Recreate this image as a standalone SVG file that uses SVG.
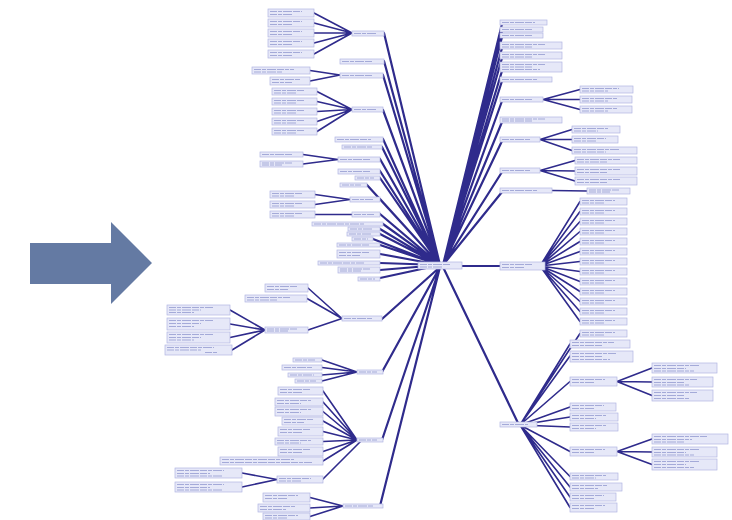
<svg xmlns="http://www.w3.org/2000/svg" width="732" height="520" viewBox="0 0 732 520">
<style>
.n rect{fill:#e6e8f8;stroke:#b1b6e2;stroke-width:0.7}
.n path{fill:none;stroke:#a4aad8;stroke-width:1;stroke-dasharray:7 1 4 1 9 1}
.e path{fill:none;stroke:#2f2b8c;stroke-linecap:round}
.c{stroke-width:2.2}
.f{stroke-width:1.6}
</style>
<rect width="732" height="520" fill="#ffffff"/>
<polygon id="bigArrow" points="30,243 111,243 111,222 152,263 111,304 111,284 30,284" fill="#647aa3"/>
<g id="connectors" class="e">
<path class="c" d="M440 265L384 33M440 265L384 61M440 265L383 75M440 265L383 110M440 265L383 139M440 265L382 147M440 265L380 159M440 265L380 171M440 265L380 178M440 265L367 185M440 265L380 199M440 265L380 214M440 265L383 224M440 265L380 229M440 265L380 234M440 265L373 239M440 265L380 245M440 265L380 254M440 265L380 263M440 265L380 270M440 265L380 278"/>
<path class="c" d="M443 265L502 24M443 265L502 31M443 265L502 37M443 265L502 48M443 265L502 58M443 265L502 71M443 265L502 81M443 265L502 101M443 265L502 122M443 265L502 141M443 265L502 172M443 265L502 192M462 266L500 266"/>
<path class="c" d="M440 267L382 319M440 267L382 372M440 267L382 440M440 267L380 506M443 267L518 423"/>
<path class="f" d="M352 33L314 13M352 33L314 23M352 33L314 33M352 33L314 43M352 33L314 54M340 75L310 70.5M340 75L310 81M352 109.5L317 91.5M352 109.5L317 101.5M352 109.5L317 111.5M352 109.5L317 121.5M352 109.5L317 131.5M338 159.5L303 154.5M338 159.5L303 164M350 199.5L315 194.5M350 199.5L315 204.5M352 214.5L315 214.5"/>
<path class="f" d="M342 318.5L308 288M342 318.5L307 298.5M342 318.5L308 330M265 330L230 310M265 330L230 324M265 330L230 337.5M265 330L232 350M357 372L322 360M357 372L322 367.5M357 372L322 375M357 372L322 381M357 440L323 391M357 440L323 402M357 440L323 411.5M357 440L323 421M357 440L323 431.5M357 440L323 441.5M357 440L323 451.5M357 440L323 461M277 479.5L242 473M277 479.5L242 487M323 479L360 442M343 506L310 497.5M343 506L310 508M343 506L310 516.5"/>
<path class="f" d="M543 99.5L580 89.5M543 99.5L580 99.5M543 99.5L580 109.5M540 139.5L572 129.5M540 139.5L572 139.5M540 139.5L572 150.5M540 170.5L575 160.5M540 170.5L575 171M540 170.5L575 181M552 190.5L587 191"/>
<path class="f" d="M540 266L580 201.5M540 266L580 211.5M540 266L580 221.5M540 266L580 231.5M540 266L580 241.5M540 266L580 251.5M540 266L580 261.5M540 266L580 271.5M540 266L580 281.5M540 266L580 291.5M540 266L580 301.5M540 266L580 311.5M540 266L580 321.5"/>
<path class="f" d="M520 425L580 333.5M520 425L570 344M520 425L570 356M520 425L570 381.5M520 425L570 407M520 425L570 417M520 425L570 427M520 425L570 451.5M520 425L570 476.5M520 425L570 487M520 425L570 497M520 425L570 507.5M617 381.5L652 368M617 381.5L652 382M617 381.5L652 395.5M617 451.5L652 439M617 451.5L652 452M617 451.5L652 464.5"/>
</g>
<g class="n">
<g id="center"><rect x="418" y="262" width="44" height="7"/><path d="M420 264.5h30M420 267h22"/></g>
<g id="hubA"><rect x="352" y="31" width="32" height="5"/><path d="M354 33.5h22"/></g>
<g id="a1"><rect x="268" y="9" width="46" height="8"/><path d="M270 11.5h32M270 14.5h22"/></g>
<g id="a2"><rect x="268" y="19" width="46" height="8"/><path d="M270 21.5h32M270 24.5h22"/></g>
<g id="a3"><rect x="268" y="29" width="46" height="8"/><path d="M270 31.5h32M270 34.5h22"/></g>
<g id="a4"><rect x="268" y="39" width="46" height="8"/><path d="M270 41.5h32M270 44.5h22"/></g>
<g id="a5"><rect x="268" y="50" width="46" height="8"/><path d="M270 52.5h32M270 55.5h22"/></g>
<g id="b"><rect x="340" y="59" width="44" height="5"/><path d="M342 61.5h31"/></g>
<g id="hubC"><rect x="340" y="73" width="43" height="5"/><path d="M342 75.5h30"/></g>
<g id="c1"><rect x="252" y="67" width="58" height="7"/><path d="M254 69.5h40M254 72h28"/></g>
<g id="c2"><rect x="270" y="77" width="40" height="8"/><path d="M272 79.5h28M272 82.5h20"/></g>
<g id="hubD"><rect x="352" y="107" width="31" height="5"/><path d="M354 109.5h22"/></g>
<g id="d1"><rect x="272" y="88" width="45" height="7"/><path d="M274 90.5h31M274 93h22"/></g>
<g id="d2"><rect x="272" y="98" width="45" height="7"/><path d="M274 100.5h31M274 103h22"/></g>
<g id="d3"><rect x="272" y="108" width="45" height="7"/><path d="M274 110.5h31M274 113h22"/></g>
<g id="d4"><rect x="272" y="118" width="45" height="7"/><path d="M274 120.5h31M274 123h22"/></g>
<g id="d5"><rect x="272" y="128" width="45" height="7"/><path d="M274 130.5h31M274 133h22"/></g>
<g id="l5"><rect x="335" y="137" width="48" height="5"/><path d="M337 139.5h34"/></g>
<g id="l6"><rect x="342" y="145" width="40" height="4"/><path d="M344 147h28"/></g>
<g id="hubE"><rect x="338" y="157" width="42" height="5"/><path d="M340 159.5h30"/></g>
<g id="e1"><rect x="260" y="152" width="43" height="5"/><path d="M262 154.5h30"/></g>
<g id="e2"><rect x="260" y="161" width="43" height="6"/><path d="M262 163h30M262 165h20"/></g>
<g id="l8"><rect x="338" y="169" width="42" height="5"/><path d="M340 171.5h30"/></g>
<g id="l9"><rect x="355" y="176" width="25" height="4"/><path d="M357 178h17"/></g>
<g id="l10"><rect x="340" y="183" width="27" height="4"/><path d="M342 185h19"/></g>
<g id="hubF"><rect x="350" y="197" width="30" height="5"/><path d="M352 199.5h21"/></g>
<g id="f1"><rect x="270" y="191" width="45" height="7"/><path d="M272 193.5h31M272 196h22"/></g>
<g id="f2"><rect x="270" y="201" width="45" height="7"/><path d="M272 203.5h31M272 206h22"/></g>
<g id="hubG"><rect x="352" y="212" width="28" height="5"/><path d="M354 214.5h20"/></g>
<g id="g1"><rect x="270" y="211" width="45" height="7"/><path d="M272 213.5h31M272 216h22"/></g>
<g id="l13"><rect x="312" y="222" width="71" height="4"/><path d="M314 224h50"/></g>
<g id="l14"><rect x="348" y="227" width="32" height="4"/><path d="M350 229h22"/></g>
<g id="l15"><rect x="347" y="232" width="33" height="4"/><path d="M349 234h23"/></g>
<g id="l16"><rect x="352" y="237" width="21" height="4"/><path d="M354 239h14"/></g>
<g id="l17"><rect x="337" y="243" width="43" height="4"/><path d="M339 245h30"/></g>
<g id="l18"><rect x="337" y="250" width="43" height="8"/><path d="M339 252.5h30M339 255.5h21"/></g>
<g id="l19"><rect x="318" y="261" width="62" height="4"/><path d="M320 263h44"/></g>
<g id="l20"><rect x="338" y="267" width="42" height="6"/><path d="M340 269h30M340 271h21"/></g>
<g id="l21"><rect x="358" y="277" width="22" height="4"/><path d="M360 279h15"/></g>
<g id="hubL1"><rect x="342" y="316" width="40" height="5"/><path d="M344 318.5h28"/></g>
<g id="l1a"><rect x="265" y="284" width="43" height="8"/><path d="M267 286.5h30M267 289.5h21"/></g>
<g id="l1b"><rect x="245" y="295" width="62" height="7"/><path d="M247 297.5h43M247 300h31"/></g>
<g id="hubH2"><rect x="265" y="327" width="43" height="6"/><path d="M267 329h30M267 331h21"/></g>
<g id="h2a"><rect x="167" y="305" width="63" height="10"/><path d="M169 307.5h44M169 310h32M169 312.5h25"/></g>
<g id="h2b"><rect x="167" y="318" width="63" height="12"/><path d="M169 320.5h44M169 323.5h32M169 326.5h25"/></g>
<g id="h2c"><rect x="167" y="332" width="63" height="11"/><path d="M169 334.5h44M169 337.5h32M169 340h25"/></g>
<g id="h2d"><rect x="165" y="345" width="67" height="10"/><path d="M167 347.5h47M167 350h34M205 352.5h12"/></g>
<g id="hubL2"><rect x="357" y="370" width="26" height="4"/><path d="M359 372h18"/></g>
<g id="l2a"><rect x="293" y="358" width="29" height="4"/><path d="M295 360h20"/></g>
<g id="l2b"><rect x="282" y="365" width="40" height="5"/><path d="M284 367.5h28"/></g>
<g id="l2c"><rect x="288" y="373" width="34" height="4"/><path d="M290 375h24"/></g>
<g id="l2d"><rect x="295" y="379" width="27" height="4"/><path d="M297 381h19"/></g>
<g id="hubL3"><rect x="357" y="438" width="26" height="4"/><path d="M359 440h18"/></g>
<g id="l3a"><rect x="278" y="387" width="45" height="8"/><path d="M280 389.5h31M280 392.5h22"/></g>
<g id="l3b"><rect x="275" y="398" width="48" height="8"/><path d="M277 400.5h34M277 403.5h24"/></g>
<g id="l3c"><rect x="275" y="407" width="48" height="9"/><path d="M277 409.5h34M277 412.5h24"/></g>
<g id="l3d"><rect x="282" y="417" width="41" height="8"/><path d="M284 419.5h29M284 422.5h20"/></g>
<g id="l3e"><rect x="278" y="427" width="45" height="9"/><path d="M280 429.5h31M280 432.5h22"/></g>
<g id="l3f"><rect x="275" y="438" width="48" height="7"/><path d="M277 440.5h34M277 443h24"/></g>
<g id="l3g"><rect x="278" y="447" width="45" height="9"/><path d="M280 449.5h31M280 452.5h22"/></g>
<g id="l3h"><rect x="220" y="457" width="103" height="8"/><path d="M222 459.5h72M222 462.5h90"/></g>
<g id="hubH3"><rect x="277" y="476" width="46" height="7"/><path d="M279 478.5h32M279 481h23"/></g>
<g id="h3a"><rect x="175" y="468" width="67" height="10"/><path d="M177 470.5h47M177 473.5h33M177 476h45"/></g>
<g id="h3b"><rect x="175" y="482" width="67" height="10"/><path d="M177 484.5h47M177 487.5h33M177 490h45"/></g>
<g id="hubL4"><rect x="343" y="504" width="40" height="4"/><path d="M345 506h28"/></g>
<g id="l4a"><rect x="263" y="493" width="47" height="9"/><path d="M265 495.5h33M265 498.5h23"/></g>
<g id="l4b"><rect x="258" y="504" width="52" height="8"/><path d="M260 506.5h36M260 509.5h26"/></g>
<g id="l4c"><rect x="263" y="513" width="47" height="7"/><path d="M265 515.5h33M265 518h23"/></g>
<g id="t1"><rect x="500" y="20" width="47" height="5"/><path d="M502 22.5h33"/></g>
<g id="t2"><rect x="500" y="27" width="43" height="5"/><path d="M502 29.5h30"/></g>
<g id="t3"><rect x="500" y="33" width="43" height="5"/><path d="M502 35.5h30"/></g>
<g id="t4"><rect x="500" y="42" width="62" height="7"/><path d="M502 44.5h43M502 47h30"/></g>
<g id="t5"><rect x="500" y="52" width="62" height="7"/><path d="M502 54.5h43M502 57h30"/></g>
<g id="t6"><rect x="500" y="62" width="62" height="10"/><path d="M502 64.5h43M502 67h30M502 69.5h38"/></g>
<g id="t7"><rect x="500" y="77" width="52" height="5"/><path d="M502 79.5h36"/></g>
<g id="hubR1"><rect x="500" y="97" width="43" height="5"/><path d="M502 99.5h30"/></g>
<g id="r1a"><rect x="580" y="86" width="53" height="7"/><path d="M582 88.5h37M582 91h26"/></g>
<g id="r1b"><rect x="580" y="96" width="52" height="7"/><path d="M582 98.5h36M582 101h26"/></g>
<g id="r1c"><rect x="580" y="106" width="52" height="7"/><path d="M582 108.5h36M582 111h26"/></g>
<g id="t8"><rect x="500" y="117" width="62" height="6"/><path d="M502 119h43M502 121h30"/></g>
<g id="hubR2"><rect x="500" y="137" width="40" height="5"/><path d="M502 139.5h28"/></g>
<g id="r2a"><rect x="572" y="126" width="48" height="7"/><path d="M574 128.5h34M574 131h24"/></g>
<g id="r2b"><rect x="572" y="136" width="46" height="7"/><path d="M574 138.5h32M574 141h23"/></g>
<g id="r2c"><rect x="572" y="147" width="65" height="7"/><path d="M574 149.5h45M574 152h32"/></g>
<g id="hubR3"><rect x="500" y="168" width="40" height="5"/><path d="M502 170.5h28"/></g>
<g id="r3a"><rect x="575" y="157" width="62" height="7"/><path d="M577 159.5h43M577 162h31"/></g>
<g id="r3b"><rect x="575" y="167" width="62" height="8"/><path d="M577 169.5h43M577 172.5h31"/></g>
<g id="r3c"><rect x="575" y="177" width="62" height="8"/><path d="M577 179.5h43M577 182.5h31"/></g>
<g id="hubR4"><rect x="500" y="188" width="52" height="5"/><path d="M502 190.5h36"/></g>
<g id="r4a"><rect x="587" y="188" width="43" height="6"/><path d="M589 190h30M589 192h21"/></g>
<g id="hubR5"><rect x="500" y="262" width="45" height="8"/><path d="M502 264.5h31M502 267.5h22"/></g>
<g id="r5a"><rect x="580" y="198" width="47" height="7"/><path d="M582 200.5h33M582 203h23"/></g>
<g id="r5b"><rect x="580" y="208" width="47" height="7"/><path d="M582 210.5h33M582 213h23"/></g>
<g id="r5c"><rect x="580" y="218" width="47" height="7"/><path d="M582 220.5h33M582 223h23"/></g>
<g id="r5d"><rect x="580" y="228" width="47" height="7"/><path d="M582 230.5h33M582 233h23"/></g>
<g id="r5e"><rect x="580" y="238" width="47" height="7"/><path d="M582 240.5h33M582 243h23"/></g>
<g id="r5f"><rect x="580" y="248" width="47" height="7"/><path d="M582 250.5h33M582 253h23"/></g>
<g id="r5g"><rect x="580" y="258" width="47" height="7"/><path d="M582 260.5h33M582 263h23"/></g>
<g id="r5h"><rect x="580" y="268" width="47" height="7"/><path d="M582 270.5h33M582 273h23"/></g>
<g id="r5i"><rect x="580" y="278" width="47" height="7"/><path d="M582 280.5h33M582 283h23"/></g>
<g id="r5j"><rect x="580" y="288" width="47" height="7"/><path d="M582 290.5h33M582 293h23"/></g>
<g id="r5k"><rect x="580" y="298" width="47" height="7"/><path d="M582 300.5h33M582 303h23"/></g>
<g id="r5l"><rect x="580" y="308" width="47" height="7"/><path d="M582 310.5h33M582 313h23"/></g>
<g id="r5m"><rect x="580" y="318" width="47" height="7"/><path d="M582 320.5h33M582 323h23"/></g>
<g id="hubR6"><rect x="500" y="422" width="37" height="5"/><path d="M502 424.5h26"/></g>
<g id="r6a"><rect x="580" y="330" width="47" height="7"/><path d="M582 332.5h33M582 335h23"/></g>
<g id="r6b"><rect x="570" y="340" width="60" height="8"/><path d="M572 342.5h42M572 345.5h30"/></g>
<g id="r6c"><rect x="570" y="351" width="63" height="11"/><path d="M572 353.5h44M572 356.5h31M572 359.5h38"/></g>
<g id="hubS1"><rect x="570" y="377" width="47" height="9"/><path d="M572 379.5h33M572 382.5h23"/></g>
<g id="s1a"><rect x="652" y="363" width="65" height="10"/><path d="M654 365.5h45M654 368.5h32M654 371h40"/></g>
<g id="s1b"><rect x="652" y="377" width="61" height="10"/><path d="M654 379.5h43M654 382.5h30M654 385h35"/></g>
<g id="s1c"><rect x="652" y="390" width="61" height="11"/><path d="M654 392.5h43M654 395.5h30M654 398.5h35"/></g>
<g id="r6d"><rect x="570" y="403" width="46" height="8"/><path d="M572 405.5h32M572 408.5h23"/></g>
<g id="r6e"><rect x="570" y="413" width="48" height="8"/><path d="M572 415.5h34M572 418.5h24"/></g>
<g id="r6f"><rect x="570" y="423" width="48" height="8"/><path d="M572 425.5h34M572 428.5h24"/></g>
<g id="hubS2"><rect x="570" y="447" width="47" height="9"/><path d="M572 449.5h33M572 452.5h23"/></g>
<g id="s2a"><rect x="652" y="434" width="76" height="10"/><path d="M654 436.5h53M654 439.5h38M654 442h30"/></g>
<g id="s2b"><rect x="652" y="447" width="65" height="10"/><path d="M654 449.5h45M654 452.5h32M654 455h40"/></g>
<g id="s2c"><rect x="652" y="459" width="65" height="11"/><path d="M654 461.5h45M654 464.5h32M654 467.5h40"/></g>
<g id="r6g"><rect x="570" y="473" width="48" height="7"/><path d="M572 475.5h34M572 478h24"/></g>
<g id="r6h"><rect x="570" y="483" width="52" height="8"/><path d="M572 485.5h36M572 488.5h26"/></g>
<g id="r6i"><rect x="570" y="493" width="46" height="8"/><path d="M572 495.5h32M572 498.5h23"/></g>
<g id="r6j"><rect x="570" y="503" width="47" height="9"/><path d="M572 505.5h33M572 508.5h23"/></g>
</g>
</svg>
